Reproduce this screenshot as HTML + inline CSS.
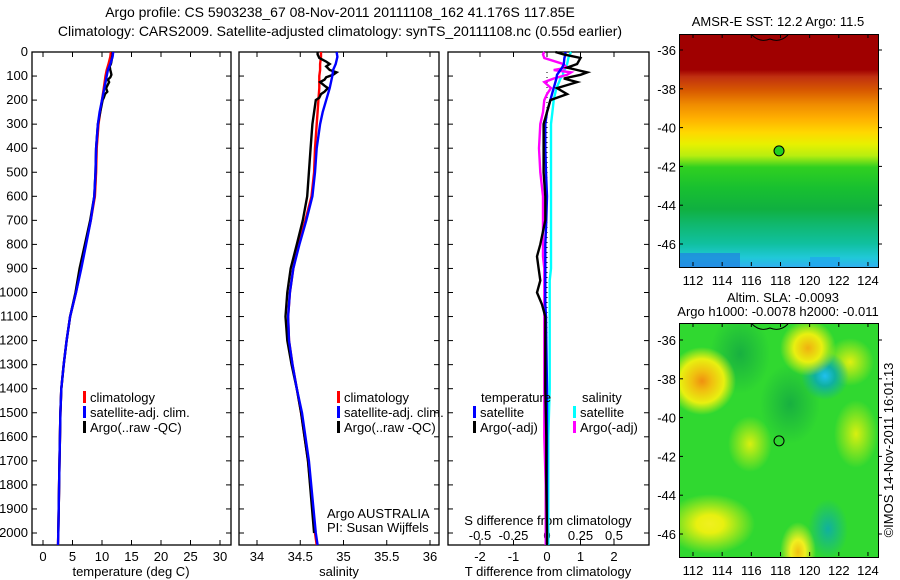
<!DOCTYPE html>
<html><head><meta charset="utf-8">
<style>
body{margin:0;background:#fff;}
#root{position:relative;width:900px;height:580px;overflow:hidden;background:#fff;font-family:"Liberation Sans",sans-serif;}
svg{position:absolute;left:0;top:0;}
text{font-family:"Liberation Sans",sans-serif;font-size:13px;fill:#000;}
.map{position:absolute;border:1px solid #000;overflow:hidden;}
</style></head>
<body>
<div id="root">
<div class="map" style="left:679px;top:34px;width:198px;height:232px;background:linear-gradient(to bottom,#a00000 0%,#a00000 15%,#c03010 18%,#d85a00 24%,#f08c00 30%,#ffb000 36%,#ffd800 42%,#e8f000 47%,#b8ee10 52%,#30d020 57%,#18c030 66%,#10b040 75%,#10b870 82%,#10c0a0 90%,#20c8d8 96%,#30b0f0 100%);">
 <div style="position:absolute;left:0;top:218px;width:60px;height:14px;background:#2080e0;opacity:.7"></div>
 <div style="position:absolute;left:130px;top:222px;width:30px;height:10px;background:#20a0f0;opacity:.6"></div>
</div>
<div class="map" style="left:679px;top:323px;width:198px;height:233px;background:
radial-gradient(circle at 22px 57px,#f09010 0,#f0c010 10px,#e8f010 22px,rgba(40,220,40,0) 34px),
radial-gradient(circle at 128px 24px,#f0b010 0,#e8f010 14px,rgba(40,220,40,0) 28px),
radial-gradient(circle at 145px 52px,#20c0f0 0,#10b0a0 10px,rgba(20,170,80,0) 24px),
radial-gradient(ellipse 45px 30px at 30px 200px,#f0f020 0,#e8f010 30%,rgba(40,220,40,0) 100%),
radial-gradient(ellipse 18px 30px at 118px 228px,#f0c010 0,#f0f020 40%,rgba(40,220,40,0) 100%),
radial-gradient(ellipse 22px 28px at 70px 120px,#d8f010 0,rgba(40,220,40,0) 100%),
radial-gradient(ellipse 22px 34px at 176px 110px,#d8f010 0,rgba(40,220,40,0) 100%),
radial-gradient(ellipse 24px 24px at 170px 38px,#e0f010 0,rgba(40,220,40,0) 100%),
radial-gradient(ellipse 20px 30px at 148px 205px,#10b0a0 0,rgba(20,170,80,0) 100%),
radial-gradient(ellipse 30px 40px at 110px 80px,#18b040 0,rgba(20,170,80,0) 100%),
radial-gradient(ellipse 30px 40px at 60px 30px,#18b040 0,rgba(20,170,80,0) 100%),
#30d830;"></div>
<svg id="fig" width="900" height="580"></svg>
</div>
<script>
// ---- data ----
const depthGrid = [0,20,50,75,100,150,200,250,300,400,500,600,700,800,900,1000,1100,1200,1300,1400,1500,1700,2000,2050];
const tempClim = [11.5,11.4,11.1,10.8,10.6,10.3,10.0,9.7,9.4,9.1,9.0,8.8,8.1,7.2,6.4,5.6,4.6,4.0,3.5,3.1,2.95,2.8,2.6,2.55];
const tempSat = [11.9,11.8,11.4,11.0,10.8,10.4,10.0,9.6,9.3,9.0,8.9,8.7,8.1,7.3,6.5,5.6,4.6,4.0,3.5,3.1,2.95,2.8,2.6,2.55];
const salClim = [34.74,34.74,34.73,34.73,34.72,34.72,34.71,34.70,34.69,34.67,34.66,34.63,34.56,34.48,34.42,34.38,34.36,34.37,34.41,34.46,34.51,34.59,34.67,34.69];
const salSat = [34.92,34.93,34.91,34.88,34.87,34.84,34.80,34.76,34.73,34.69,34.67,34.64,34.57,34.49,34.42,34.38,34.36,34.37,34.41,34.46,34.52,34.60,34.68,34.70];
const depthArgo = [0,10,25,40,50,60,75,85,95,105,115,125,140,150,165,175,190,200,250,300,400,500,600,700,800,900,1000,1100,1200,1300,1400,1500,1700,2000];
const tempArgo = [11.8,11.8,11.7,11.6,11.5,11.3,11.4,11.5,11.6,11.4,11.0,11.2,10.9,10.7,10.9,10.5,10.3,10.1,9.7,9.3,9.0,8.9,8.7,8.0,7.1,6.2,5.5,4.6,4.0,3.5,3.1,2.95,2.8,2.6];
const salArgo = [34.70,34.70,34.72,34.80,34.84,34.80,34.84,34.92,34.88,34.80,34.78,34.73,34.78,34.82,34.78,34.74,34.72,34.68,34.66,34.64,34.62,34.60,34.58,34.53,34.46,34.39,34.35,34.33,34.35,34.40,34.46,34.51,34.59,34.66];
const depthDiff = [0,10,25,50,65,75,85,95,110,125,150,175,200,250,300,400,500,600,700,800,850,900,950,1000,1050,1100,1200,1400,1600,1800,2000,2050];
const dTSat = [0.55,0.55,0.52,0.5,0.45,0.4,0.35,0.3,0.28,0.25,0.2,0.15,0.1,0.0,-0.05,-0.05,-0.03,0,-0.02,-0.05,-0.05,-0.05,-0.05,-0.05,-0.05,-0.03,-0.02,0,0,0,0,0];
const dTArgo = [0.25,0.5,1.0,0.9,0.6,0.9,1.2,1.0,0.5,0.9,0.3,0.6,0.1,0.0,-0.1,-0.1,-0.1,-0.05,-0.05,-0.2,-0.3,-0.25,-0.2,-0.3,-0.15,-0.05,-0.05,-0.05,-0.02,-0.02,0,0];
const dSSat = [0.18,0.17,0.16,0.15,0.14,0.13,0.12,0.12,0.1,0.09,0.07,0.06,0.05,0.04,0.03,0.03,0.03,0.03,0.03,0.03,0.03,0.03,0.02,0.02,0.02,0.02,0.02,0.02,0.01,0.01,0.01,0.01];
const dSArgo = [-0.02,-0.03,-0.02,0.12,0.15,0.05,0.18,0.15,0.05,-0.02,0.03,0.0,-0.02,-0.03,-0.05,-0.06,-0.05,-0.03,-0.03,-0.03,-0.03,-0.02,-0.02,-0.02,-0.02,-0.02,-0.02,-0.02,-0.02,-0.01,-0.01,-0.01];
const depthTicks = [0,100,200,300,400,500,600,700,800,900,1000,1100,1200,1300,1400,1500,1600,1700,1800,1900,2000];
const tempTicks = [0,5,10,15,20,25,30];
const salTicks = [34,34.5,35,35.5,36];
const salTickLabels = ["34","34.5","35","35.5","36"];
const dTTicks = [-2,-1,0,1,2];
const dSTicks = [-0.5,-0.25,0,0.25,0.5];
const dSTickLabels = ["-0.5","-0.25","0","0.25","0.5"];
const lonTicks = [112,114,116,118,120,122,124];
const latTicks = [-36,-38,-40,-42,-44,-46];
const floatLon = 117.9, floatLat = -41.2;

// ---- scales ----
const TOP=52, BOT=545;
const yD = d => TOP + d*0.2405;
const xT = t => 43 + t*5.9;
const xS = s => 257 + (s-34)*86.5;
const xDT = t => 547 + t*33.5;
const xDS = s => 547 + s*134;
const mx = lon => 693 + (lon-112)*14.58;
const myTop = lat => 50 + (-36-lat)*19.4;
const myBot = lat => 340 + (-36-lat)*19.4;

const svg = document.getElementById('fig');
const NS='http://www.w3.org/2000/svg';
function mk(tag, attrs){const e=document.createElementNS(NS,tag);for(const k in attrs)e.setAttribute(k,attrs[k]);svg.appendChild(e);return e;}
function txt(x,y,s,anchor){const e=mk('text',{x:x,y:y,'text-anchor':anchor||'start'});e.textContent=s;return e;}

// titles
let e;
e=txt(340,17,'Argo profile: CS 5903238_67 08-Nov-2011 20111108_162 41.176S 117.85E','middle');
e.setAttribute('style','font-size:14px');

e=txt(340,36,'Climatology: CARS2009. Satellite-adjusted climatology: synTS_20111108.nc (0.55d earlier)','middle');
e.setAttribute('style','font-size:14px');


// frames
const panels=[[32,231,'temperature-panel'],[239,439,'salinity-panel'],[448,649,'difference-panel']];
panels.forEach(p=>{
  e=mk('rect',{x:p[0],y:TOP,width:p[1]-p[0],height:BOT-TOP,fill:'none',stroke:'#000','stroke-width':1.3});
  
  depthTicks.forEach(d=>{
    mk('line',{x1:p[0],x2:p[0]+5,y1:yD(d),y2:yD(d),stroke:'#000'});
    mk('line',{x1:p[1],x2:p[1]-5,y1:yD(d),y2:yD(d),stroke:'#000'});
  });
});
depthTicks.forEach(d=>{e=txt(28,yD(d)+4,String(d),'end');});

function xticks(vals,labels,f,ly){
  vals.forEach((v,i)=>{
    const x=f(v);
    mk('line',{x1:x,x2:x,y1:TOP,y2:TOP+5,stroke:'#000'});
    mk('line',{x1:x,x2:x,y1:BOT,y2:BOT-5,stroke:'#000'});
    if(ly){e=txt(x,ly,labels[i],'middle');}
  });
}
xticks(tempTicks,tempTicks.map(String),xT,561);
xticks(salTicks,salTickLabels,xS,561);
xticks(dTTicks,dTTicks.map(String),xDT,561);
dSTicks.forEach((v,i)=>{e=txt(xDS(v),540,dSTickLabels[i],'middle');});
e=txt(131,576,'temperature (deg C)','middle');
e=txt(339,576,'salinity','middle');
e=txt(548,576,'T difference from climatology','middle');
e=txt(548,525,'S difference from climatology','middle');

// zero dotted line
e=mk('line',{x1:xDT(0),x2:xDT(0),y1:TOP+20,y2:BOT-40,stroke:'#000','stroke-dasharray':'1,4'});


function line(depths,vals,fx,color,name){
  const pts=depths.map((d,i)=>fx(vals[i]).toFixed(1)+','+yD(d).toFixed(1)).join(' ');
  const l=mk('polyline',{points:pts,fill:'none',stroke:color,'stroke-width':2.4,'stroke-linejoin':'miter'});
  
  
}
line(depthGrid,tempClim,xT,'#f00','temp-climatology-line');
line(depthArgo,tempArgo,xT,'#000','temp-argo-line');
line(depthGrid,tempSat,xT,'#00f','temp-satellite-line');
line(depthGrid,salClim,xS,'#f00','sal-climatology-line');
line(depthArgo,salArgo,xS,'#000','sal-argo-line');
line(depthGrid,salSat,xS,'#00f','sal-satellite-line');
line(depthDiff,dSSat,xDS,'#0ff','s-diff-satellite-line');
line(depthDiff,dSArgo,xDS,'#f0f','s-diff-argo-line');
line(depthDiff,dTSat,xDT,'#00f','t-diff-satellite-line');
line(depthDiff,dTArgo,xDT,'#000','t-diff-argo-line');

// legends
function leg(x,y,color,label){
  mk('rect',{x:x,y:y-6,width:3,height:12,fill:color});
  const t=txt(x+7,y+5,label);
  
  
}
[[83,'#f00','climatology'],[83,'#00f','satellite-adj. clim.'],[83,'#000','Argo(..raw -QC)']].forEach((r,i)=>leg(r[0],397+i*15,r[1],r[2]));
[[337,'#f00','climatology'],[337,'#00f','satellite-adj. clim.'],[337,'#000','Argo(..raw -QC)']].forEach((r,i)=>leg(r[0],397+i*15,r[1],r[2]));
e=txt(481,402,'temperature');
e=txt(582,402,'salinity');
leg(473,412,'#00f','satellite');leg(473,427,'#000','Argo(-adj)');
leg(573,412,'#0ff','satellite');leg(573,427,'#f0f','Argo(-adj)');
e=txt(327,518,'Argo AUSTRALIA');
e=txt(327,532,'PI: Susan Wijffels');

// map axes
e=txt(778,26,'AMSR-E SST: 12.2 Argo: 11.5','middle');
e=txt(783,302,'Altim. SLA: -0.0093','middle');
e=txt(778,316,'Argo h1000: -0.0078 h2000: -0.011','middle');
[[34,266,myTop,285],[323,556,myBot,575]].forEach(m=>{
  lonTicks.forEach(l=>{
    const x=mx(l);
    mk('line',{x1:x,x2:x,y1:m[0],y2:m[0]+4,stroke:'#000'});
    mk('line',{x1:x,x2:x,y1:m[1],y2:m[1]-4,stroke:'#000'});
    e=txt(x,m[3],String(l),'middle');
  });
  latTicks.forEach(l=>{
    const y=m[2](l);
    mk('line',{x1:679,x2:683,y1:y,y2:y,stroke:'#000'});
    mk('line',{x1:878,x2:882,y1:y,y2:y,stroke:'#000'});
    e=txt(676,y+5,String(l),'end');
  });
  e=mk('path',{d:`M752 ${m[0]+1} Q760 ${m[0]+9} 770 ${m[0]+5} Q780 ${m[0]+9} 788 ${m[0]+1}`,fill:'none',stroke:'#000','stroke-width':1});
  
});
e=mk('circle',{cx:mx(floatLon),cy:myTop(floatLat),r:5,fill:'#20d020',stroke:'#000'});

e=mk('circle',{cx:mx(floatLon),cy:myBot(floatLat),r:5,fill:'none',stroke:'#000'});

e=txt(0,0,'©IMOS 14-Nov-2011 16:01:13','middle');
e.setAttribute('transform','translate(893,450) rotate(-90)');

</script>
</body></html>
